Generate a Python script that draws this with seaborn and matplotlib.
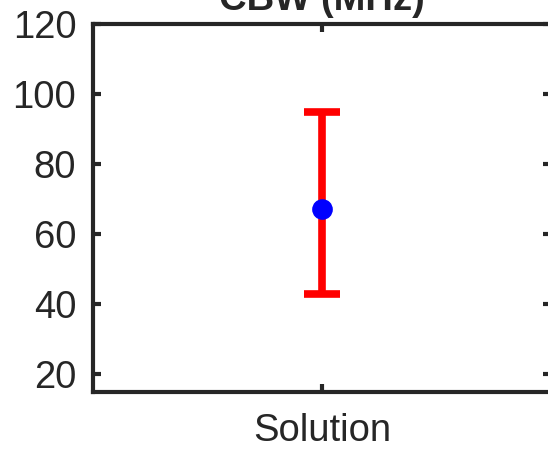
import matplotlib
matplotlib.use("Agg")
import matplotlib.pyplot as plt
import seaborn as sns
import pandas as pd

sns.set_theme(style="white")
plt.rcParams["font.family"] = ["Liberation Sans", "DejaVu Sans"]

# data
categories = ["Solution"]
means = [67.3]
lower = [43.0]
upper = [95.0]
y_ticks = [20, 40, 60, 80, 100, 120]

df = pd.DataFrame({"case": categories, "value": means})

fig = plt.figure(figsize=(5.48, 4.49), dpi=100)
ax = fig.add_axes([93 / 548, 57 / 449, 458 / 548, 368 / 449])

# error bar (red) then the mean point (blue)
yerr = [[m - lo for m, lo in zip(means, lower)],
        [hi - m for m, hi in zip(means, upper)]]
ax.errorbar(range(len(categories)), means, yerr=yerr, fmt="none",
            ecolor="red", elinewidth=5.5, capsize=13, capthick=5.5, zorder=2)
sns.scatterplot(data=df, x="case", y="value", color="blue", s=190,
                edgecolor="blue", ax=ax, zorder=3, legend=False)

ax.set_xlim(-0.5, 0.5)
ax.set_ylim(15, 120)
ax.set_yticks(y_ticks)
ax.set_xticks(range(len(categories)))
ax.set_xticklabels(categories)
ax.set_xlabel("")
ax.set_ylabel("")
ax.set_title("CBW (MHz)", fontsize=27.5, fontweight="bold", pad=10)

for side in ax.spines.values():
    side.set_visible(True)
    side.set_linewidth(3)
    side.set_color("#262626")

ax.tick_params(axis="both", direction="in", length=5.5, width=3,
               color="#262626", labelsize=27.5, labelcolor="#262626",
               top=True, right=True, left=True, bottom=True)
ax.tick_params(axis="y", pad=12)
ax.tick_params(axis="x", pad=15)
ax.grid(False)

fig.savefig("out.png", dpi=100)
plt.close(fig)
